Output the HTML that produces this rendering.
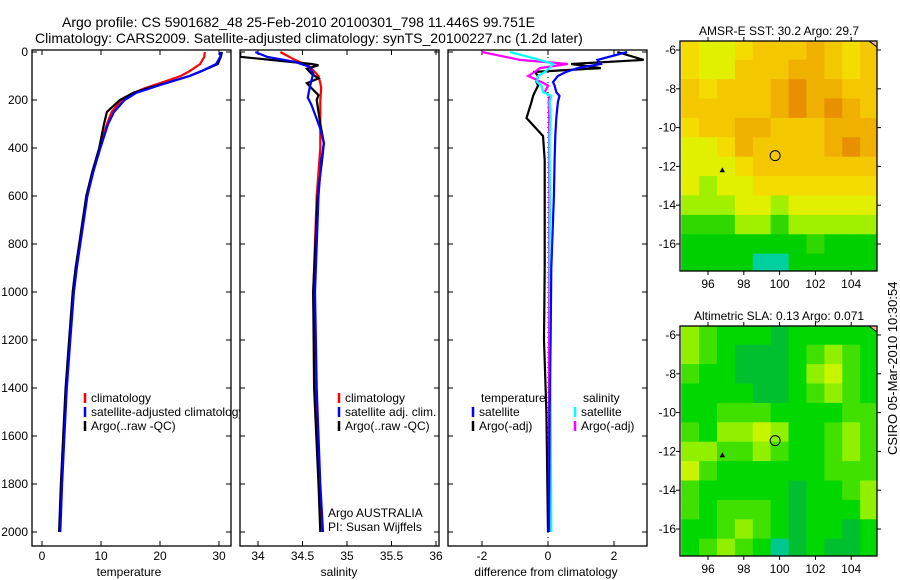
<!DOCTYPE html>
<html><head><meta charset="utf-8"><style>
body{margin:0;background:#fff;}
svg{display:block;font-family:"Liberation Sans",sans-serif;}
</style></head><body>
<svg id="fig" width="900" height="580" xmlns="http://www.w3.org/2000/svg">
<text x="62" y="27" font-size="14">Argo profile: CS 5901682_48 25-Feb-2010 20100301_798 11.446S 99.751E</text>
<text x="35" y="43" font-size="14">Climatology: CARS2009. Satellite-adjusted climatology: synTS_20100227.nc (1.2d later)</text>
<g id="g1"></g>
<g id="g2"></g>
<g id="g3"></g>
<g id="m1"></g>
<g id="m2"></g>
<text transform="translate(897,455) rotate(-90)" font-size="13">CSIRO 05-Mar-2010 10:30:54</text>
</svg>
<script>
// ---- data ----
const tDepth=[0,20,50,80,100,130,150,170,200,250,300,400,500,600,700,800,900,1000,1200,1400,1600,1800,2000];
const tClim=[27.6,27.5,26.8,25,23.5,20,17.5,15.5,13.5,11.8,11,9.8,8.6,7.6,7,6.4,5.8,5.3,4.7,4.1,3.7,3.3,3.0];
const tSat=[30.3,30.2,29.5,27,25,21,18.5,16,14,12.2,11.2,9.9,8.7,7.7,7.1,6.5,5.9,5.4,4.8,4.2,3.8,3.4,3.1];
const tArgo=[30.5,30.3,29.8,27,25,21,18,15.5,13.2,11,10.5,9.7,8.5,7.5,6.9,6.3,5.7,5.2,4.6,4.0,3.6,3.2,2.9];
const sDepthC=[0,30,60,100,130,150,200,300,400,600,1000,1400,1800,2000];
const sClim=[34.25,34.4,34.58,34.68,34.7,34.71,34.70,34.70,34.70,34.66,34.62,34.64,34.69,34.71];
const sDepthS=[0,20,40,60,90,120,150,190,220,260,320,380,450,600,1000,1400,1800,2000];
const sSat=[33.97,34.1,34.4,34.57,34.62,34.6,34.58,34.56,34.6,34.64,34.7,34.74,34.71,34.68,34.64,34.66,34.7,34.73];
const sDepthA=[0,20,35,50,55,70,90,110,130,150,180,200,250,300,380,450,600,1000,1400,1800,2000];
const sArgo=[33.8,33.8,34.2,34.6,34.68,34.55,34.6,34.68,34.55,34.6,34.68,34.66,34.68,34.7,34.74,34.72,34.67,34.62,34.63,34.68,34.7];
const dDepth=[0,33,50,67,83,100,125,140,167,183,208,275,350,450,600,900,1200,1500,2000];
const dTsat=[2.4,1.5,1.6,0.9,0.55,0.3,0.15,0.2,0.25,0.35,0.3,0.25,0.22,0.2,0.18,0.1,0.08,0.05,0.03];
const dTargo=[2.1,2.9,0.7,1.6,-0.4,-0.3,-0.35,-0.3,-0.4,-0.45,-0.5,-0.65,-0.15,-0.1,-0.1,-0.1,-0.12,-0.05,0];
const dSsat=[-1.15,-0.25,0.15,0.05,-0.1,-0.3,-0.33,-0.2,-0.15,0.1,0.05,0.08,0.05,0.05,0.06,0.05,0.06,0.08,0.1];
const dSargo=[-2,-0.85,0.6,-0.25,-0.4,-0.6,-0.2,0,-0.1,0.05,0.02,0.04,0.03,0.03,0.04,0.03,0.03,0.03,0.03];
const depthTicks=[0,200,400,600,800,1000,1200,1400,1600,1800,2000];
const tTicks=[0,10,20,30];
const sTicks=["34","34.5","35","35.5","36"];
const dTicks=[-2,0,2];
const sstGrid=[
[5,4,4,5,6,6,6,7,6,5,6],[5,4,4,6,6,6,7,7,6,5,6],[6,5,6,6,6,7,8,7,7,6,6],[6,6,6,6,6,7,8,7,8,7,6],
[5,6,6,7,7,6,6,6,7,7,7],[4,4,5,7,6,6,6,6,7,8,7],[4,4,4,5,6,6,6,6,6,6,6],[4,3,4,4,5,5,5,5,5,5,5],
[3,3,3,4,4,3,4,4,4,4,4],[2,2,2,3,3,2,3,3,3,3,3],[1,1,1,1,1,1,1,2,1,1,1],[1,1,1,1,0,0,1,1,1,1,1]];
const slaGrid=[
[4,3,2,2,2,1,2,2,2,2,2],[4,3,2,1,1,1,2,3,4,3,2],[3,2,2,1,1,1,2,4,5,3,2],[2,2,2,2,1,1,2,3,4,3,2],
[2,2,3,3,3,2,2,2,2,3,3],[3,2,4,4,5,4,2,2,3,4,3],[4,4,3,3,4,3,2,2,3,4,3],[5,3,2,2,2,2,2,2,3,3,3],
[3,2,2,2,2,2,1,2,2,3,4],[3,2,3,3,3,2,1,2,2,2,4],[2,2,3,4,3,2,1,2,2,1,2],[2,3,4,3,2,0,1,2,1,1,2]];
const lonTicks=[96,98,100,102,104];
const latTicks=[-6,-8,-10,-12,-14,-16];
// ---- helpers ----
const NS="http://www.w3.org/2000/svg";
function mk(p,tag,at,txt){const e=document.createElementNS(NS,tag);for(const k in at)e.setAttribute(k,at[k]);if(txt!==undefined)e.textContent=txt;p.appendChild(e);return e;}
const yD=d=>52+d*0.24;
function panel(g,x0,x1,name){
  const cid='clip'+name;
  const cp=mk(g,'clipPath',{id:cid});mk(cp,'rect',{x:x0,y:50,width:x1-x0,height:496});
  const r=mk(g,'rect',{x:x0,y:50,width:x1-x0,height:496,fill:'none',stroke:'#000','stroke-width':1.3});
  
  
  return cid;
}
function line(g,cid,xs,ds,xf,col,name,dash){
  const pts=xs.map((v,i)=>xf(v).toFixed(1)+','+yD(ds[i]).toFixed(1)).join(' ');
  const p=mk(g,'polyline',{points:pts,fill:'none',stroke:col,'stroke-width':2.2,'clip-path':'url(#'+cid+')'});
  if(dash)p.setAttribute('stroke-dasharray',dash);
  
  
}
function xticks(g,vals,xf,x0,x1){
  vals.forEach(v=>{const x=xf(+v);
    mk(g,'line',{x1:x,x2:x,y1:546,y2:541,stroke:'#000'});mk(g,'line',{x1:x,x2:x,y1:50,y2:55,stroke:'#000'});
    const t=mk(g,'text',{x:x,y:560,'font-size':12,'text-anchor':'middle'},String(v));
    
    });
  depthTicks.forEach(d=>{mk(g,'line',{x1:x0,x2:x0+5,y1:yD(d),y2:yD(d),stroke:'#000'});mk(g,'line',{x1:x1,x2:x1-5,y1:yD(d),y2:yD(d),stroke:'#000'});});
}
function legend(g,x,y,items){
  items.forEach((it,i)=>{const yy=y+i*14;
    mk(g,'line',{x1:x,x2:x,y1:yy-9,y2:yy+1,stroke:it[1],'stroke-width':2.5});
    const t=mk(g,'text',{x:x+6,y:yy,'font-size':12},it[0]);
    
    });
}
// panel 1
const g1=document.getElementById('g1');
const xT=v=>42+v*5.9;
const c1=panel(g1,32,231,'temperature');
xticks(g1,tTicks,xT,32,231);
depthTicks.forEach(d=>{const t=mk(g1,'text',{x:28,y:yD(d)+4,'font-size':12,'text-anchor':'end'},String(d));
  
  });
line(g1,c1,tClim,tDepth,xT,'#f00','temp-climatology-line');
line(g1,c1,tArgo,tDepth,xT,'#000','temp-argo-line');
line(g1,c1,tSat,tDepth,xT,'#00f','temp-satellite-line');
const lc=mk(g1,'clipPath',{id:'lc1'});mk(lc,'rect',{x:32,y:380,width:208,height:60});
const lg1=mk(g1,'g',{'clip-path':'url(#lc1)'});
legend(lg1,85,402,[['climatology','#f00'],['satellite-adjusted climatology','#00f'],['Argo(..raw -QC)','#000']]);
mk(g1,'text',{x:129,y:576,'font-size':12,'text-anchor':'middle'},'temperature');
// panel 2
const g2=document.getElementById('g2');
const xS=v=>258+(v-34)*89;
const c2=panel(g2,240,439,'salinity');
xticks(g2,sTicks,xS,240,439);
line(g2,c2,sClim,sDepthC,xS,'#f00','sal-climatology-line');
line(g2,c2,sArgo,sDepthA,xS,'#000','sal-argo-line');
line(g2,c2,sSat,sDepthS,xS,'#00f','sal-satellite-line');
legend(g2,339,402,[['climatology','#f00'],['satellite adj. clim.','#00f'],['Argo(..raw -QC)','#000']]);
mk(g2,'text',{x:328,y:517,'font-size':12},'Argo AUSTRALIA');
mk(g2,'text',{x:328,y:531,'font-size':12},'PI: Susan Wijffels');
mk(g2,'text',{x:339,y:576,'font-size':12,'text-anchor':'middle'},'salinity');
// panel 3
const g3=document.getElementById('g3');
const xDf=v=>548+v*33;
const c3=panel(g3,448,647,'difference');
xticks(g3,dTicks,xDf,448,647);
mk(g3,'line',{x1:548,x2:548,y1:52,y2:545,stroke:'#000','stroke-dasharray':'1,4'});
line(g3,c3,dTargo,dDepth,xDf,'#000','temp-diff-argo-line');
line(g3,c3,dSargo,dDepth,xDf,'#f0f','sal-diff-argo-line');
line(g3,c3,dSsat,dDepth,xDf,'#0ff','sal-diff-satellite-line');
line(g3,c3,dTsat,dDepth,xDf,'#00f','temp-diff-satellite-line');
mk(g3,'text',{x:481,y:402,'font-size':12},'temperature');
mk(g3,'text',{x:583,y:402,'font-size':12},'salinity');
legend(g3,473,416,[['satellite','#00f'],['Argo(-adj)','#000']]);
legend(g3,575,416,[['satellite','#0ff'],['Argo(-adj)','#f0f']]);
mk(g3,'text',{x:546,y:576,'font-size':12,'text-anchor':'middle'},'difference from climatology');
// maps
const sstCol=['#00d0a0','#00d000','#30d800','#a0f000','#e0f000','#f4dc00','#f4c800','#f0b000','#e89000','#d86800'];
const slaCol=['#00c890','#00c030','#00d800','#40e000','#90f000','#c8f400'];
function map(id,grid,cols,top,title,name){
  const g=document.getElementById(id);
  const x0=680,x1=877,y1=top+230;
  const xL=v=>708+(v-96)*17.9, yL=v=>(top+9)+(-6-v)*19.4;
  mk(g,'text',{x:779,y:top-6,'font-size':12,'text-anchor':'middle'},title);
  const cp=mk(g,'clipPath',{id:'c'+id});mk(cp,'rect',{x:x0,y:top,width:x1-x0,height:230});
  const cg=mk(g,'g',{'clip-path':'url(#c'+id+')'});
  grid.forEach((row,r)=>row.forEach((v,c)=>{
    const lon=95+c, lat=-6-r;
    const rc=mk(cg,'rect',{x:xL(lon-0.5),y:yL(lat+0.5),width:17.9+0.6,height:19.4+0.6,fill:cols[v]});
    
    
  }));
  mk(cg,'polygon',{points:`${x1-8},${top} ${x1},${top} ${x1},${top+6}`,fill:'#f0c090',stroke:'#000'});
  mk(g,'circle',{cx:xL(99.751),cy:yL(-11.446),r:5,fill:'none',stroke:'#000'});
  mk(g,'polygon',{points:`${xL(96.8)},${yL(-12.05)} ${xL(96.95)},${yL(-12.3)} ${xL(96.65)},${yL(-12.3)}`,fill:'#000'});
  mk(g,'rect',{x:x0,y:top,width:x1-x0,height:230,fill:'none',stroke:'#000','stroke-width':1.3});
  lonTicks.forEach(v=>{const x=xL(v);mk(g,'line',{x1:x,x2:x,y1:y1,y2:y1+4,stroke:'#000'});mk(g,'line',{x1:x,x2:x,y1:top,y2:top-4,stroke:'#000'});
    mk(g,'text',{x:x,y:y1+17,'font-size':12,'text-anchor':'middle'},String(v));});
  latTicks.forEach(v=>{const y=yL(v);mk(g,'line',{x1:x0,x2:x0-4,y1:y,y2:y,stroke:'#000'});mk(g,'line',{x1:x1,x2:x1+4,y1:y,y2:y,stroke:'#000'});
    mk(g,'text',{x:676,y:y+4,'font-size':12,'text-anchor':'end'},String(v));});
}
map('m1',sstGrid,sstCol,41,'AMSR-E SST: 30.2 Argo: 29.7');
map('m2',slaGrid,slaCol,326,'Altimetric SLA: 0.13 Argo: 0.071');
</script>
</body></html>
